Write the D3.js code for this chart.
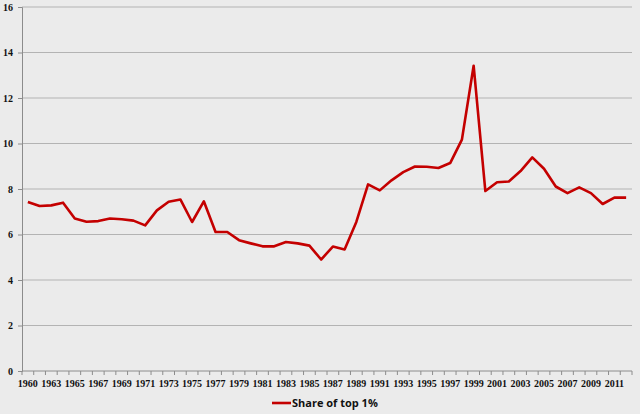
<!DOCTYPE html>
<html>
<head>
<meta charset="utf-8">
<script src="https://cdn.jsdelivr.net/npm/d3@7"></script>
<style>
  html, body { margin: 0; padding: 0; background: #ebebeb; }
  svg { display: block; }
</style>
</head>
<body>
<div id="chart"></div>
<script>
// Category labels (the source skips a year between 1960 and 1963)
const years = [
  '1960', '1962', '1963', '1964', '1965', '1966', '1967', '1968', '1969', '1970',
  '1971', '1972', '1973', '1974', '1975', '1976', '1977', '1978', '1979', '1980',
  '1981', '1982', '1983', '1984', '1985', '1986', '1987', '1988', '1989', '1990',
  '1991', '1992', '1993', '1994', '1995', '1996', '1997', '1998', '1999', '2000',
  '2001', '2002', '2003', '2004', '2005', '2006', '2007', '2008', '2009', '2010',
  '2011', '2012'
];

// Share of top 1%
const shareTop1 = [
  7.43, 7.25, 7.28, 7.40, 6.70, 6.56, 6.59, 6.70, 6.67, 6.61,
  6.40, 7.06, 7.44, 7.54, 6.55, 7.46, 6.11, 6.11, 5.75, 5.61,
  5.48, 5.48, 5.67, 5.61, 5.51, 4.90, 5.47, 5.34, 6.55, 8.20,
  7.94, 8.38, 8.74, 8.99, 8.98, 8.92, 9.14, 10.17, 13.42, 7.91,
  8.30, 8.33, 8.79, 9.39, 8.89, 8.11, 7.82, 8.07, 7.82, 7.34,
  7.62, 7.62
];

const yTicks = [0, 2, 4, 6, 8, 10, 12, 14, 16];
const seriesName = 'Share of top 1%';

const width = 640;
const height = 414;
const margin = { top: 7, right: 8, bottom: 43, left: 22 };

const svg = d3.select('#chart')
  .append('svg')
  .attr('width', width)
  .attr('height', height);

svg.append('rect')
  .attr('width', width)
  .attr('height', height)
  .attr('fill', '#ebebeb');

const x = d3.scaleBand()
  .domain(years)
  .range([margin.left, width - margin.right])
  .paddingInner(0)
  .paddingOuter(0);

const y = d3.scaleLinear()
  .domain([0, 16])
  .range([height - margin.bottom, margin.top]);

// Horizontal gridlines
svg.append('g')
  .selectAll('line')
  .data(yTicks.filter(d => d > 0))
  .enter().append('line')
  .attr('x1', margin.left)
  .attr('x2', width - margin.right)
  .attr('y1', d => y(d))
  .attr('y2', d => y(d))
  .style('stroke', '#b3b3b3')
  .style('stroke-width', 1);

// Y axis
const yAxis = svg.append('g')
  .attr('transform', `translate(${margin.left},0)`)
  .call(d3.axisLeft(y).tickValues(yTicks).tickSize(4).tickPadding(5));
yAxis.select('.domain').style('stroke', '#8c8c8c');
yAxis.selectAll('.tick line').style('stroke', '#8c8c8c');
yAxis.selectAll('text')
  .style('font-family', '"Liberation Serif", serif')
  .style('font-weight', 'bold')
  .style('font-size', '10px')
  .style('fill', '#111');

// X axis: tick marks on category boundaries, labels on every other category
const xBase = y(0);
const xAxis = svg.append('g');
xAxis.append('line')
  .attr('x1', margin.left)
  .attr('x2', width - margin.right)
  .attr('y1', xBase)
  .attr('y2', xBase)
  .style('stroke', '#8c8c8c');

xAxis.selectAll('.xtick')
  .data(years.map((d, i) => i).concat([years.length]))
  .enter().append('line')
  .attr('class', 'xtick')
  .attr('x1', i => margin.left + i * x.bandwidth())
  .attr('x2', i => margin.left + i * x.bandwidth())
  .attr('y1', xBase)
  .attr('y2', xBase + 4)
  .style('stroke', '#8c8c8c');

xAxis.selectAll('.xlabel')
  .data(years.filter((d, i) => i % 2 === 0))
  .enter().append('text')
  .attr('class', 'xlabel')
  .attr('x', d => x(d) + x.bandwidth() / 2)
  .attr('y', xBase + 16)
  .attr('text-anchor', 'middle')
  .style('font-family', '"Liberation Serif", serif')
  .style('font-weight', 'bold')
  .style('font-size', '10px')
  .style('fill', '#111')
  .text(d => d);

// Series line
const line = d3.line()
  .x((d, i) => x(years[i]) + x.bandwidth() / 2)
  .y(d => y(d));

svg.append('path')
  .datum(shareTop1)
  .attr('d', line)
  .style('fill', 'none')
  .style('stroke', '#c40000')
  .style('stroke-width', 2.6)
  .style('stroke-linejoin', 'round');

// Legend
const legend = svg.append('g')
  .attr('transform', 'translate(272,403)');
legend.append('line')
  .attr('x1', 0)
  .attr('x2', 19)
  .attr('y1', 0)
  .attr('y2', 0)
  .style('stroke', '#c40000')
  .style('stroke-width', 2.6);
legend.append('text')
  .attr('x', 20)
  .attr('y', 4)
  .style('font-family', '"Open Sans", sans-serif')
  .style('font-weight', 'bold')
  .style('font-size', '11px')
  .style('fill', '#111')
  .text(seriesName);
</script>
</body>
</html>
